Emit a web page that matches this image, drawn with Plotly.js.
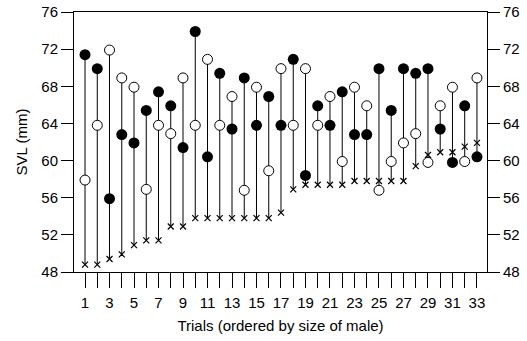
<!DOCTYPE html>
<html>
<head>
<meta charset="utf-8">
<script src="https://cdn.plot.ly/plotly-3.0.1.min.js"></script>
<style>html,body{margin:0;padding:0;background:#fff;}#chart{width:527px;height:341px;}</style>
</head>
<body>
<div id="chart"></div>
<script>
var trials = [1,2,3,4,5,6,7,8,9,10,11,12,13,14,15,16,17,18,19,20,21,22,23,24,25,26,27,28,29,30,31,32,33];
var filledSVL = [71.4,69.9,55.9,62.8,61.9,65.4,67.4,65.9,61.4,73.9,60.4,69.4,63.4,68.9,63.8,66.9,63.8,70.9,58.4,65.9,63.8,67.4,62.8,62.8,69.9,65.4,69.9,69.4,69.9,63.4,59.8,65.9,60.4];
var openSVL = [57.9,63.8,71.9,68.9,67.9,56.9,63.8,62.9,68.9,63.8,70.9,63.8,66.9,56.8,67.9,58.9,69.9,63.8,69.9,63.8,66.9,59.9,67.9,65.9,56.8,59.9,61.9,62.9,59.8,65.9,67.9,59.9,68.9];
var maleSVL = [48.8,48.8,49.4,49.9,50.9,51.4,51.4,52.9,52.9,53.8,53.8,53.8,53.8,53.8,53.8,53.8,54.4,56.9,57.4,57.4,57.4,57.4,57.8,57.8,57.8,57.8,57.8,59.4,60.6,60.9,60.9,61.5,61.9];
var xTickVals = trials;
var xTickText = trials.map(function(t){ return t % 2 === 1 ? String(t) : ''; });
var yTickVals = [48,52,56,60,64,68,72,76];

var stemX = [], stemY = [];
for (var i = 0; i < trials.length; i++) {
  var lo = Math.min(filledSVL[i], openSVL[i], maleSVL[i]);
  var hi = Math.max(filledSVL[i], openSVL[i], maleSVL[i]);
  stemX.push(trials[i], trials[i], null);
  stemY.push(lo, hi, null);
}

var font = {family: 'Liberation Sans, Arial, sans-serif', size: 15, color: '#000'};

var traces = [
  {x: stemX, y: stemY, mode: 'lines', line: {color: '#000', width: 1}, hoverinfo: 'skip'},
  {x: trials, y: maleSVL, mode: 'markers', marker: {symbol: 'x-thin', size: 6, line: {color: '#000', width: 1.2}}},
  {x: trials, y: openSVL, mode: 'markers', marker: {symbol: 'circle', size: 10, color: '#fff', line: {color: '#000', width: 1}}},
  {x: trials, y: filledSVL, mode: 'markers', marker: {symbol: 'circle', size: 11, color: '#000', line: {width: 0}}},
  {x: [trials[0]], y: [filledSVL[0]], yaxis: 'y2', mode: 'markers', marker: {opacity: 0}, hoverinfo: 'skip'}
];

var layout = {
  width: 527, height: 341,
  margin: {l: 74, r: 40, t: 12, b: 69},
  showlegend: false,
  paper_bgcolor: '#fff', plot_bgcolor: '#fff',
  font: font,
  xaxis: {
    range: [0.1, 33.82], tickvals: xTickVals, ticktext: xTickText,
    ticks: 'outside', ticklen: 15, tickwidth: 1, tickcolor: '#000', ticklabelstandoff: 2,
    showline: true, linecolor: '#000', linewidth: 1, mirror: true,
    showgrid: false, zeroline: false, tickfont: font,
    title: {text: 'Trials (ordered by size of male)', font: font, standoff: 10}
  },
  yaxis: {
    range: [48, 76], tickvals: yTickVals,
    ticks: 'outside', ticklen: 12, tickwidth: 1, tickcolor: '#000',
    showline: true, linecolor: '#000', linewidth: 1,
    showgrid: false, zeroline: false, tickfont: font,
    title: {text: 'SVL (mm)', font: font, standoff: 10}
  },
  yaxis2: {
    range: [48, 76], tickvals: yTickVals, overlaying: 'y', side: 'right',
    ticks: 'outside', ticklen: 12, tickwidth: 1, tickcolor: '#000',
    showline: true, linecolor: '#000', linewidth: 1,
    showgrid: false, zeroline: false, tickfont: font
  }
};

Plotly.newPlot('chart', traces, layout, {displayModeBar: false, staticPlot: true});
</script>
</body>
</html>
